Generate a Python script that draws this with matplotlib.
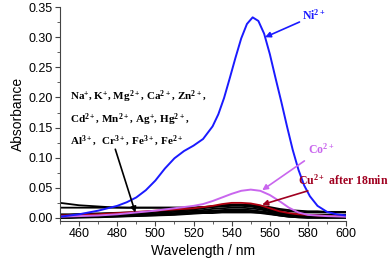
import matplotlib
matplotlib.use('Agg')
import matplotlib.pyplot as plt
from matplotlib.ticker import MultipleLocator

plt.rcParams['font.family'] = ['Liberation Sans', 'DejaVu Sans']
plt.rcParams['mathtext.default'] = 'regular'

# wavelength grid (nm), 5 nm step
wl = [450, 455, 460, 465, 470, 475, 480, 485, 490, 495, 500, 505, 510, 515, 520,
      525, 530, 535, 540, 545, 550, 555, 560, 565, 570, 575, 580, 585, 590, 595, 600]

# Ni2+ read on a finer grid around the peak
ni_wl = [450, 455, 460, 465, 470, 475, 480, 485, 490, 495, 500, 505, 510, 515, 520,
         525, 530, 533, 536, 539, 542, 545, 548, 551, 554, 557, 560, 563, 566, 569,
         572, 575, 578, 581, 585, 590, 595, 600]
ni = [0.002, 0.004, 0.006, 0.009, 0.012, 0.016, 0.020, 0.026, 0.034, 0.046, 0.062,
      0.082, 0.099, 0.111, 0.120, 0.131, 0.152, 0.172, 0.199, 0.232, 0.266, 0.298,
      0.322, 0.333, 0.327, 0.306, 0.272, 0.232, 0.193, 0.152, 0.113, 0.080, 0.054,
      0.036, 0.020, 0.010, 0.006, 0.004]

co = [0.002, 0.0025, 0.003, 0.0035, 0.004, 0.005, 0.006, 0.0075, 0.009, 0.0105, 0.012,
      0.014, 0.016, 0.018, 0.020, 0.023, 0.028, 0.034, 0.040, 0.045, 0.047, 0.045,
      0.038, 0.028, 0.017, 0.009, 0.005, 0.004, 0.003, 0.0025, 0.002]

cu = [0.004, 0.0045, 0.005, 0.0055, 0.006, 0.007, 0.008, 0.009, 0.010, 0.011, 0.012,
      0.013, 0.014, 0.015, 0.016, 0.018, 0.020, 0.023, 0.025, 0.025, 0.024, 0.021,
      0.016, 0.011, 0.008, 0.006, 0.005, 0.004, 0.0035, 0.003, 0.003]

# other metal ions (black curves)
others = [
    [0.025, 0.023, 0.021, 0.020, 0.019, 0.018, 0.0175, 0.017, 0.017, 0.017, 0.017,
     0.017, 0.017, 0.017, 0.017, 0.018, 0.019, 0.020, 0.021, 0.021, 0.021, 0.020,
     0.018, 0.015, 0.013, 0.012, 0.011, 0.011, 0.010, 0.010, 0.010],
    [0.017, 0.017, 0.017, 0.017, 0.017, 0.017, 0.017, 0.017, 0.017, 0.017, 0.017,
     0.017, 0.017, 0.017, 0.017, 0.018, 0.019, 0.020, 0.022, 0.022, 0.021, 0.019,
     0.016, 0.013, 0.011, 0.010, 0.009, 0.009, 0.009, 0.009, 0.009],
    [0.006, 0.006, 0.0065, 0.007, 0.0075, 0.008, 0.0085, 0.009, 0.0095, 0.010, 0.011,
     0.012, 0.013, 0.014, 0.015, 0.017, 0.019, 0.021, 0.022, 0.022, 0.021, 0.018,
     0.014, 0.010, 0.007, 0.006, 0.005, 0.005, 0.005, 0.005, 0.005],
    [0.005, 0.005, 0.0055, 0.006, 0.0065, 0.007, 0.0075, 0.008, 0.0085, 0.009, 0.010,
     0.011, 0.012, 0.013, 0.014, 0.016, 0.018, 0.019, 0.020, 0.020, 0.019, 0.016,
     0.012, 0.009, 0.006, 0.005, 0.004, 0.004, 0.004, 0.004, 0.004],
    [0.004, 0.004, 0.004, 0.0045, 0.005, 0.0055, 0.006, 0.0065, 0.007, 0.0075, 0.008,
     0.009, 0.010, 0.011, 0.012, 0.013, 0.015, 0.016, 0.017, 0.017, 0.016, 0.014,
     0.011, 0.008, 0.005, 0.004, 0.003, 0.003, 0.003, 0.003, 0.003],
    [0.002, 0.002, 0.0025, 0.003, 0.003, 0.0035, 0.004, 0.0045, 0.005, 0.0055, 0.006,
     0.007, 0.008, 0.009, 0.010, 0.011, 0.012, 0.013, 0.014, 0.014, 0.013, 0.011,
     0.009, 0.006, 0.004, 0.003, 0.002, 0.002, 0.002, 0.002, 0.002],
    [0.001, 0.001, 0.0015, 0.002, 0.002, 0.0025, 0.003, 0.0035, 0.004, 0.0045, 0.005,
     0.006, 0.007, 0.008, 0.009, 0.010, 0.011, 0.012, 0.012, 0.012, 0.011, 0.010,
     0.008, 0.005, 0.003, 0.002, 0.0015, 0.001, 0.001, 0.001, 0.001],
    [0.000, 0.0005, 0.001, 0.001, 0.0015, 0.002, 0.0025, 0.003, 0.0035, 0.004, 0.0045,
     0.005, 0.006, 0.007, 0.008, 0.009, 0.010, 0.010, 0.011, 0.011, 0.010, 0.009,
     0.007, 0.004, 0.002, 0.001, 0.0005, 0.0005, 0.0005, 0.0005, 0.0005],
    [0.000, 0.000, 0.0005, 0.001, 0.001, 0.0015, 0.002, 0.0025, 0.003, 0.0035, 0.004,
     0.0045, 0.005, 0.006, 0.007, 0.008, 0.008, 0.009, 0.009, 0.009, 0.009, 0.008,
     0.006, 0.004, 0.002, 0.001, 0.000, 0.000, 0.000, 0.000, 0.000],
]

fig = plt.figure(figsize=(3.92, 2.63), dpi=100)
ax = fig.add_axes([0.153, 0.16, 0.730, 0.813])

for ys in others:
    ax.plot(wl, ys, color='black', lw=1.3)
ax.plot(wl, cu, color='#b00010', lw=1.3)
ax.plot(wl, co, color='#c966ee', lw=1.4)
ax.plot(ni_wl, ni, color='#1a1aff', lw=1.4)

ax.set_xlim(450, 600)
ax.set_ylim(-0.005, 0.35)
ax.xaxis.set_minor_locator(MultipleLocator(10))
ax.yaxis.set_major_locator(MultipleLocator(0.05))
ax.yaxis.set_minor_locator(MultipleLocator(0.025))
ax.set_xticks(range(460, 601, 20))
ax.yaxis.set_major_formatter(plt.FormatStrFormatter('%.2f'))
ax.spines['top'].set_visible(False)
ax.spines['right'].set_visible(False)
for s in ('left', 'bottom'):
    ax.spines[s].set_color('#444444')
ax.tick_params(which='both', direction='out', colors='#444444', labelcolor='black',
               labelsize=9, pad=1.5)
ax.tick_params(which='major', length=3.5)
ax.tick_params(which='minor', length=2)

ax.set_xlabel('Wavelength / nm', fontsize=10, labelpad=3)
ax.set_ylabel('Absorbance', fontsize=10, labelpad=3)

lbl = dict(family=['Liberation Serif', 'DejaVu Serif'], weight='bold', fontsize=8.5)

ax.annotate('Ni$^{2+}$', xy=(557.5, 0.300), xytext=(577, 0.336), color='#1a1aff',
            va='center', ha='left', **lbl,
            arrowprops=dict(arrowstyle='-|>', color='#1a1aff', lw=1.2,
                            mutation_scale=8, shrinkA=0, shrinkB=0))
ax.annotate('Co$^{2+}$', xy=(556, 0.046), xytext=(580, 0.114), color='#c966ee',
            va='center', ha='left', **lbl,
            arrowprops=dict(arrowstyle='-|>', color='#c966ee', lw=1.2,
                            mutation_scale=8, shrinkA=2, shrinkB=0))
ax.annotate('Cu$^{2+}$ after 18min', xy=(556, 0.022), xytext=(575, 0.063),
            color='#a00020', va='center', ha='left', **lbl,
            arrowprops=dict(arrowstyle='-|>', color='#a00020', lw=1.2,
                            mutation_scale=8, shrinkA=2, shrinkB=0),
            annotation_clip=False)

ax.text(455, 0.165,
        'Na$^{+}$, K$^{+}$, Mg$^{2+}$, Ca$^{2+}$, Zn$^{2+}$,\n'
        'Cd$^{2+}$, Mn$^{2+}$, Ag$^{+}$, Hg$^{2+}$,\n'
        'Al$^{3+}$,  Cr$^{3+}$, Fe$^{3+}$, Fe$^{2+}$',
        ha='left', va='center', linespacing=1.55,
        family=['Liberation Serif', 'DejaVu Serif'], weight='bold', fontsize=8)
ax.annotate('', xy=(489.5, 0.009), xytext=(479, 0.114),
            arrowprops=dict(arrowstyle='-|>', color='black', lw=1.2,
                            mutation_scale=8, shrinkA=0, shrinkB=0))

fig.savefig('out.png', dpi=100)
